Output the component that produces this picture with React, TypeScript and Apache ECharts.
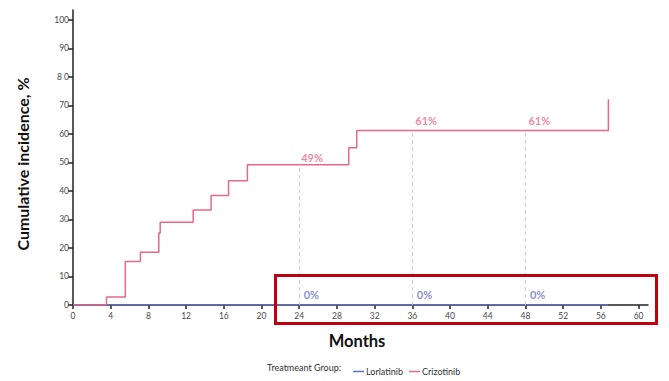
import React, { useEffect, useRef } from "react";
import * as echarts from "echarts";

// Step-function data: [month, cumulative incidence %]
const crizotinibSteps: [number, number][] = [
  [0, 0],
  [3.55, 2.8],
  [5.55, 15.3],
  [7.15, 18.5],
  [9.1, 25.3],
  [9.25, 29.0],
  [12.75, 33.3],
  [14.65, 38.4],
  [16.5, 43.6],
  [18.5, 49.2],
  [29.25, 55.2],
  [30.1, 61.2],
  [56.8, 61.2],
  [56.8, 72.2],
];
const lorlatinibSteps: [number, number][] = [
  [0, 0],
  [56.8, 0],
];

const landmarkMonths = [24, 36, 48];
const crizotinibLandmarkLabels = ["49%", "61%", "61%"];
const lorlatinibLandmarkLabels = ["0%", "0%", "0%"];

const xTicks = [0, 4, 8, 12, 16, 20, 24, 28, 32, 36, 40, 44, 48, 52, 56, 60];
const yTicks = [0, 10, 20, 30, 40, 50, 60, 70, 80, 90, 100];
const yTickLabels = ["0", "10", "20", "30", "40", "50", "60", "70", "8 0", "90", "100"];

const seriesNames = ["Lorlatinib", "Crizotinib"];
const legendPrefix = "Treatmeant Group:";
const xTitle = "Months";
const yTitle = "Cumulative incidence, %";

const PINK = "#e6698a";
const BLUE = "#6573c4";

function stepValueAt(steps: [number, number][], t: number): number {
  let v = steps[0][1];
  for (const [x, y] of steps) {
    if (x <= t) v = y;
  }
  return v;
}

export default function App() {
  const ref = useRef<HTMLDivElement>(null);
  useEffect(() => {
    if (!ref.current) return;
    const chart = echarts.init(ref.current, null, { renderer: "svg" });
    const font = "Lato";
    const crizTops = landmarkMonths.map((m) => stepValueAt(crizotinibSteps, m));
    chart.setOption({
      animation: false,
      textStyle: { fontFamily: font },
      grid: { left: 73, right: 21, top: 10, bottom: 76, containLabel: false },
      legend: {
        data: seriesNames,
        left: 348,
        top: 362,
        icon: "rect",
        itemWidth: 11,
        itemHeight: 1.5,
        itemGap: 6,
        textStyle: { fontSize: 9, color: "#333", fontFamily: font, padding: [0, 0, 0, -3] },
      },
      xAxis: {
        type: "value",
        min: 0,
        max: 61,
        splitLine: { show: false },
        axisLine: { lineStyle: { color: "#222", width: 1.5 } },
        axisTick: { customValues: xTicks, length: 4, lineStyle: { color: "#222", width: 1.5 } },
        axisLabel: { customValues: xTicks, fontSize: 8.5, color: "#4a4a4a", margin: 6 },
      },
      yAxis: {
        type: "value",
        min: 0,
        max: 103.5,
        splitLine: { show: false },
        axisLine: { show: true, lineStyle: { color: "#222", width: 1.5 } },
        axisTick: { show: true, customValues: yTicks, length: 5, lineStyle: { color: "#222", width: 1.5 } },
        axisLabel: {
          customValues: yTicks,
          fontSize: 8.5,
          color: "#4a4a4a",
          margin: 4,
          formatter: (v: number) => {
            const i = yTicks.indexOf(v);
            return i >= 0 ? yTickLabels[i] : "";
          },
        },
      },
      graphic: [
        {
          type: "text",
          x: 22,
          y: 164,
          rotation: Math.PI / 2,
          style: {
            text: yTitle,
            fontFamily: font,
            fontWeight: "bold",
            fontSize: 16,
            fill: "#111",
            textAlign: "center",
            textVerticalAlign: "middle",
          },
        },
        {
          type: "text",
          x: 357,
          y: 341,
          style: {
            text: xTitle,
            fontFamily: font,
            fontWeight: "bold",
            fontSize: 16.5,
            fill: "#111",
            textAlign: "center",
            textVerticalAlign: "middle",
          },
        },
        {
          type: "text",
          x: 341,
          y: 367,
          style: {
            text: legendPrefix,
            fontFamily: font,
            fontSize: 9,
            fill: "#333",
            textAlign: "right",
            textVerticalAlign: "middle",
          },
        },
        {
          type: "rect",
          shape: { x: 275.5, y: 275.5, width: 381, height: 48 },
          style: { fill: "none", stroke: "#c00010", lineWidth: 3 },
          z: 100,
        },
      ],
      series: [
        {
          name: seriesNames[0],
          type: "line",
          step: "end",
          symbol: "none",
          data: lorlatinibSteps,
          lineStyle: { color: BLUE, width: 1.5 },
          itemStyle: { color: BLUE },
          z: 3,
        },
        {
          name: seriesNames[1],
          type: "line",
          step: "end",
          symbol: "none",
          data: crizotinibSteps,
          lineStyle: { color: PINK, width: 1.5 },
          itemStyle: { color: PINK },
          z: 4,
          markLine: {
            silent: true,
            symbol: "none",
            label: { show: false },
            lineStyle: { color: "#cfcfcf", type: [4, 3], width: 1 },
            data: landmarkMonths.map((m, i) => [
              { coord: [m, 0] },
              { coord: [m, crizTops[i]] },
            ]),
          },
        },
        {
          type: "scatter",
          symbolSize: 0,
          silent: true,
          z: 5,
          data: landmarkMonths.map((m, i) => ({
            value: [m, crizTops[i]],
            label: {
              show: true,
              position: i === 0 ? [2, -13] : [3, -16],
              formatter: crizotinibLandmarkLabels[i],
              color: PINK,
              fontSize: 11,
              fontWeight: "bold",
              fontFamily: font,
            },
          })),
        },
        {
          type: "scatter",
          symbolSize: 0,
          silent: true,
          z: 5,
          data: landmarkMonths.map((m, i) => ({
            value: [m, 0],
            label: {
              show: true,
              position: [4.5, -16],
              formatter: lorlatinibLandmarkLabels[i],
              color: BLUE,
              fontSize: 11,
              fontWeight: "bold",
              fontFamily: font,
            },
          })),
        },
      ],
    });
    return () => chart.dispose();
  }, []);
  return (
    <div
      ref={ref}
      style={{ position: "absolute", left: 0, top: 0, width: 669, height: 381 }}
    />
  );
}
